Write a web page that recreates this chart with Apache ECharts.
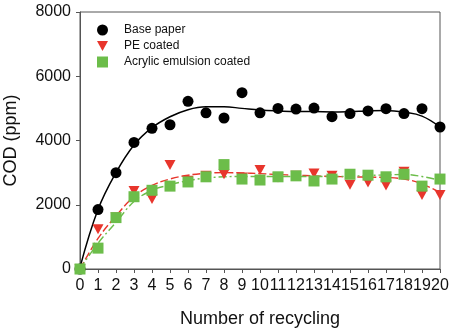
<!DOCTYPE html>
<html><head><meta charset="utf-8">
<script src="https://cdn.jsdelivr.net/npm/echarts@6/dist/echarts.min.js"></script>
<style>html,body{margin:0;padding:0;background:#fff}#c{width:455px;height:333px}</style>
</head><body><div id="c"></div>
<script>
var cycles = [0,1,2,3,4,5,6,7,8,9,10,11,12,13,14,15,16,17,18,19,20];
var basePaper = [0,1850,3000,3940,4380,4490,5220,4860,4700,5490,4860,5000,4980,5010,4740,4840,4920,4990,4840,4990,4420];
var peCoated = [0,1240,1600,2430,2180,3240,2750,2900,2950,2850,3080,2850,2900,2970,2900,2620,2690,2600,3030,2300,2300];
var acrylic = [0,650,1600,2250,2450,2580,2710,2870,3250,2800,2770,2870,2900,2740,2800,2950,2920,2870,2950,2580,2800];
var baseFit = [50,1850,3000,3860,4400,4740,4960,5050,5050,5000,4950,4920,4900,4900,4890,4900,4920,4930,4880,4760,4420];
var peFit = [0,950,1650,2250,2600,2800,2920,2980,3000,2990,2970,2940,2920,2900,2880,2870,2860,2850,2800,2650,2380];
var acrylicFit = [0,800,1450,2100,2450,2620,2750,2830,2870,2880,2880,2880,2880,2880,2880,2890,2910,2930,2940,2880,2760];
var yTicks = [0,2000,4000,6000,8000];

function pairs(v){ return cycles.map(function(x,i){ return [x, v[i]]; }); }
var font = 'Liberation Sans, Arial, sans-serif';
var RED = '#e8352c', GREEN = '#6cbd4a';
var chart = echarts.init(document.getElementById('c'));
chart.setOption({
  animation: false,
  backgroundColor: '#fff',
  grid: {left: 80, right: 15, top: 12, bottom: 64, show: true, borderColor: '#555', borderWidth: 1,
    containLabel: false, outerBoundsMode: 'none'},
  legend: {
    orient: 'vertical', left: 92, top: 19, itemGap: 4, itemWidth: 11, itemHeight: 11,
    textStyle: {fontFamily: font, fontSize: 12, color: '#111', padding: [0,0,0,11]},
    data: [
      {name: 'Base paper', icon: 'circle'},
      {name: 'PE coated', icon: 'path://M0,0 L10,0 L5,9 Z'},
      {name: 'Acrylic emulsion coated', icon: 'rect'}
    ]
  },
  xAxis: {
    type: 'value', min: 0, max: 20, interval: 1,
    name: 'Number of recycling', nameLocation: 'middle', nameGap: 41,
    nameTextStyle: {fontFamily: font, fontSize: 18, color: '#111'},
    axisLine: {show: true, lineStyle: {color: '#555', width: 1}},
    axisTick: {show: true, inside: false, length: 4, lineStyle: {color: '#555'}},
    axisLabel: {interval: 0, hideOverlap: false, margin: 9, fontFamily: font, fontSize: 16, color: '#111',
      formatter: function(v){ return cycles.indexOf(v) >= 0 ? String(v) : ''; }},
    splitLine: {show: false}
  },
  yAxis: {
    type: 'value', min: 0, max: 8000, interval: 2000,
    name: 'COD (ppm)', nameLocation: 'middle', nameGap: 60,
    nameTextStyle: {fontFamily: font, fontSize: 18, color: '#111'},
    axisLine: {show: true, lineStyle: {color: '#555', width: 1}},
    axisTick: {show: true, inside: false, length: 4, lineStyle: {color: '#555'}},
    axisLabel: {margin: 9, fontFamily: font, fontSize: 16, color: '#111',
      formatter: function(v){ return yTicks.indexOf(v) >= 0 ? String(v) : ''; }},
    splitLine: {show: false}
  },
  series: [
    {type: 'line', data: pairs(baseFit), smooth: 0.4, showSymbol: false, symbol: 'none',
      lineStyle: {color: '#000', width: 1.5}, silent: true, z: 2},
    {type: 'line', data: pairs(peFit), smooth: 0.4, showSymbol: false, symbol: 'none',
      lineStyle: {color: RED, width: 1.4, type: [8,3]}, silent: true, z: 2},
    {type: 'line', data: pairs(acrylicFit), smooth: 0.4, showSymbol: false, symbol: 'none',
      lineStyle: {color: GREEN, width: 1.4, type: [8,3,2,3]}, silent: true, z: 2},
    {name: 'Base paper', type: 'scatter', data: pairs(basePaper), symbol: 'circle', symbolSize: 11,
      itemStyle: {color: '#000', opacity: 1}, z: 3},
    {name: 'PE coated', type: 'scatter', data: pairs(peCoated), symbol: 'path://M0,0 L10,0 L5,9 Z', symbolSize: [11,10],
      itemStyle: {color: RED, opacity: 1}, z: 4},
    {name: 'Acrylic emulsion coated', type: 'scatter', data: pairs(acrylic), symbol: 'rect', symbolSize: 11,
      itemStyle: {color: GREEN, opacity: 1}, z: 5}
  ]
});
</script></body></html>
